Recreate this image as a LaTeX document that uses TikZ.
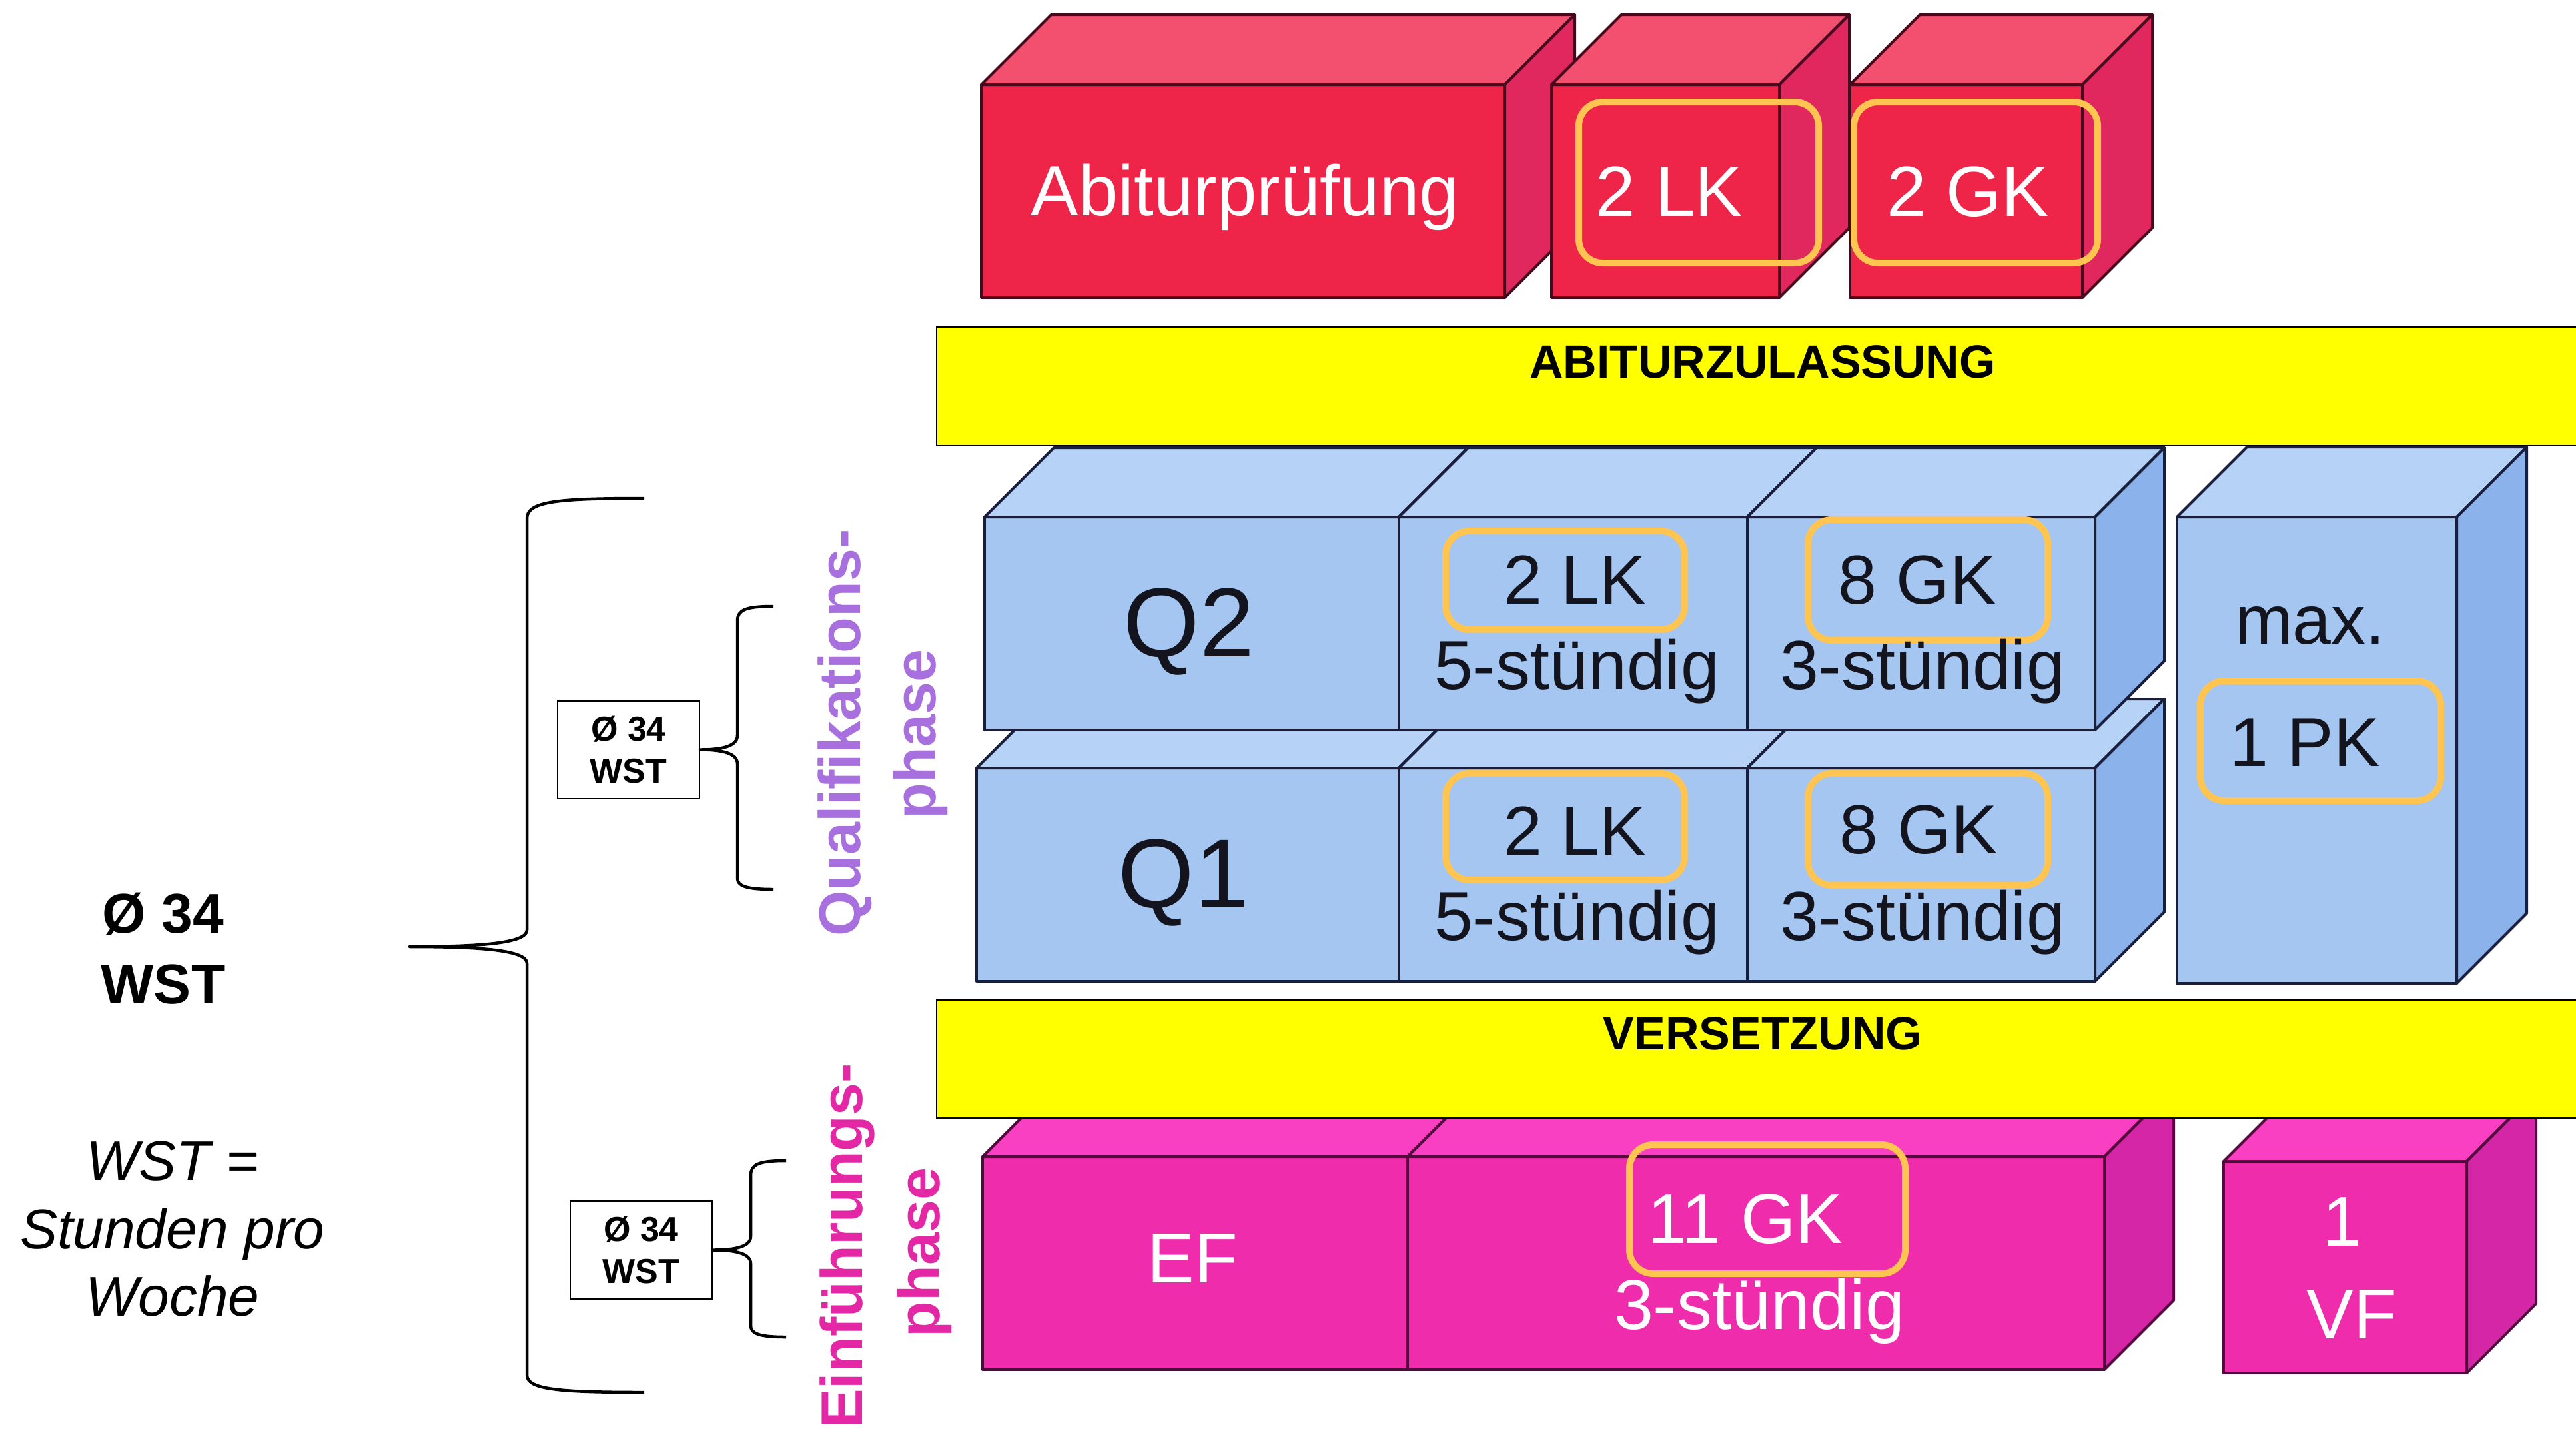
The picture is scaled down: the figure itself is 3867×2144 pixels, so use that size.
\documentclass[tikz,border=0pt]{standalone}
\usepackage{fontspec}
\setmainfont{Liberation Sans}
\definecolor{redF}{RGB}{238,36,72}
\definecolor{redT}{RGB}{242,80,110}
\definecolor{redS}{RGB}{224,40,94}
\definecolor{redE}{RGB}{70,10,30}
\definecolor{bluF}{RGB}{164,198,241}
\definecolor{bluT}{RGB}{182,211,247}
\definecolor{bluS}{RGB}{140,178,236}
\definecolor{bluE}{RGB}{25,30,60}
\definecolor{bluK}{RGB}{20,20,30}
\definecolor{magF}{RGB}{238,44,172}
\definecolor{magT}{RGB}{250,64,194}
\definecolor{magS}{RGB}{214,38,168}
\definecolor{magE}{RGB}{80,10,60}
\definecolor{orng}{RGB}{255,197,80}
\definecolor{yel}{RGB}{255,255,0}
\definecolor{qpurple}{RGB}{168,112,222}
\definecolor{emag}{RGB}{228,40,165}
\newcommand\cuboidbox[9]{%
  \filldraw[cubeedge, draw=#9, fill=#6] (#1,#2) rectangle (#3,#4);
  \filldraw[cubeedge, draw=#9, fill=#7] (#1,#2) -- ({#1+#5},{#2-#5}) -- ({#3+#5},{#2-#5}) -- (#3,#2) -- cycle;
  \filldraw[cubeedge, draw=#9, fill=#8] (#3,#2) -- ({#3+#5},{#2-#5}) -- ({#3+#5},{#4-#5}) -- (#3,#4) -- cycle;
}
\tikzset{
  cubeedge/.style={line width=4pt, line join=round},
  hl/.style={draw=orng, line width=10pt, rounded corners=36pt},
  bar/.style={fill=yel, draw=black, line width=2.5pt},
  redtxt/.style={text=white, font=\fontsize{107}{130}\selectfont, anchor=base, inner sep=0pt},
  blutxt/.style={text=bluK, font=\fontsize{104}{125}\selectfont, anchor=base, inner sep=0pt},
  qtxt/.style={text=bluK, font=\fontsize{147}{170}\selectfont, anchor=base, inner sep=0pt},
  magtxt/.style={text=white, font=\fontsize{106}{128}\selectfont, anchor=base, inner sep=0pt},
  bartxt/.style={text=black, font=\bfseries\fontsize{70}{84}\selectfont, anchor=base, inner sep=0pt},
  phasetxt/.style={font=\bfseries\fontsize{88}{100}\selectfont, rotate=90, inner sep=0pt},
  wstbox/.style={draw=black, line width=2pt, fill=white, minimum width=213pt, minimum height=147pt, align=center, font=\bfseries\fontsize{52}{63}\selectfont, inner sep=0pt},
  brace/.style={draw=black, line width=4.5pt, line join=round},
  lefttxt/.style={font=\fontsize{84}{100}\selectfont, anchor=base, inner sep=0pt},
}
\begin{document}
\begin{tikzpicture}[x=1pt,y=-1pt]
\useasboundingbox (0,0) rectangle (3867,2144);
\fill[white] (0,0) rectangle (3867,2144);

% ---- red blocks (Abitur)
\cuboidbox{1473}{127}{2259}{447}{105}{redF}{redT}{redS}{redE}
\cuboidbox{2329}{127}{2671}{447}{105}{redF}{redT}{redS}{redE}
\cuboidbox{2777}{127}{3126}{447}{105}{redF}{redT}{redS}{redE}

% ---- blue blocks (Q1 first, then Q2)
\cuboidbox{1466}{1153}{2100}{1473}{104}{bluF}{bluT}{bluS}{bluE}
\cuboidbox{2100}{1153}{2623}{1473}{104}{bluF}{bluT}{bluS}{bluE}
\cuboidbox{2623}{1153}{3145}{1473}{104}{bluF}{bluT}{bluS}{bluE}
\cuboidbox{1478}{776}{2100}{1096}{104}{bluF}{bluT}{bluS}{bluE}
\cuboidbox{2100}{776}{2623}{1096}{104}{bluF}{bluT}{bluS}{bluE}
\cuboidbox{2623}{776}{3145}{1096}{104}{bluF}{bluT}{bluS}{bluE}
\cuboidbox{3268}{776}{3688}{1476}{105}{bluF}{bluT}{bluS}{bluE}

% ---- magenta blocks (EF)
\cuboidbox{1475}{1736}{2113}{2056}{104}{magF}{magT}{magS}{magE}
\cuboidbox{2113}{1736}{3159}{2056}{104}{magF}{magT}{magS}{magE}
\cuboidbox{3338}{1743}{3703}{2061}{104}{magF}{magT}{magS}{magE}

% ---- yellow bars
\draw[bar] (1406,491) rectangle (3880,669);
\node[bartxt] (abiz) at (2646,567) {ABITURZULASSUNG};
\draw[bar] (1406,1501) rectangle (3880,1678);
\node[bartxt] (vers) at (2646,1575) {VERSETZUNG};

% ---- orange highlights
\draw[hl] (2370,153) rectangle (2730,395);
\draw[hl] (2783,153) rectangle (3149,395);
\draw[hl] (2170,797) rectangle (2529,945);
\draw[hl] (2714,780) rectangle (3074,961);
\draw[hl] (2170,1161) rectangle (2529,1321);
\draw[hl] (2714,1161) rectangle (3074,1329);
\draw[hl] (3303,1022) rectangle (3664,1202);
\draw[hl] (2446,1718) rectangle (2860,1912);

% ---- block texts
\node[redtxt] (abi) at (1869,323) {Abiturprüfung};
\node[redtxt] (lka) at (2506,324) {2 LK};
\node[redtxt] (gka) at (2954,324) {2 GK};

\node[qtxt] (q2) at (1785,985) {Q2};
\node[blutxt] (q2lk) at (2364,906) {2 LK};
\node[blutxt] (q2lks) at (2367,1034) {5-stündig};
\node[blutxt] (q2gk) at (2878,906) {8 GK};
\node[blutxt] (q2gks) at (2886,1034) {3-stündig};
\node[qtxt] (q1) at (1777,1362) {Q1};
\node[blutxt] (q1lk) at (2364,1283) {2 LK};
\node[blutxt] (q1lks) at (2367,1411) {5-stündig};
\node[blutxt] (q1gk) at (2880,1281) {8 GK};
\node[blutxt] (q1gks) at (2886,1411) {3-stündig};
\node[blutxt] (maxk) at (3468,966) {max.};
\node[blutxt] (pk) at (3460,1150) {1 PK};

\node[magtxt] (ef) at (1790,1925) {EF};
\node[magtxt] (gk11) at (2620,1866) {11 GK};
\node[magtxt] (gk11s) at (2641,1995) {3-stündig};
\node[magtxt] (vfa) at (3516,1870) {1};
\node[magtxt] (vfb) at (3530,2009) {VF};

% ---- phase labels
\node[phasetxt, text=qpurple] (qual) at (1268,1100) {Qualifikations-};
\node[phasetxt, text=qpurple] (qphase) at (1382,1102) {phase};
\node[phasetxt, text=emag] (einf) at (1272,1870) {Einführungs-};
\node[phasetxt, text=emag] (ephase) at (1388,1880) {phase};

% ---- WST boxes and braces
\node[wstbox] (b1) at (943.5,1125.5) {Ø 34\\WST};
\node[wstbox] (b2) at (962.5,1876.5) {Ø 34\\WST};

\draw[brace] (1161,910) .. controls (1120,910) and (1107,915) .. (1107,932) -- (1107,1104)
  .. controls (1107,1120) and (1085,1125.5) .. (b1.east)
  .. controls (1085,1125.5) and (1107,1131) .. (1107,1147) -- (1107,1318)
  .. controls (1107,1330) and (1120,1335) .. (1161,1335);
\draw[brace] (1180,1742) .. controls (1140,1742) and (1127,1747) .. (1127,1764) -- (1127,1856)
  .. controls (1127,1871) and (1105,1876.5) .. (b2.east)
  .. controls (1105,1876.5) and (1127,1882) .. (1127,1897) -- (1127,1990)
  .. controls (1127,2002) and (1140,2007) .. (1180,2007);

\coordinate (tip) at (615,1421);
\draw[brace] (967,748) .. controls (840,748) and (791,752) .. (791,778) -- (791,1396)
  .. controls (791,1416) and (720,1421) .. (tip)
  .. controls (720,1421) and (791,1426) .. (791,1446) -- (791,2064)
  .. controls (791,2086) and (840,2090) .. (967,2090);

% ---- left texts
\node[lefttxt, font=\bfseries\fontsize{84}{100}\selectfont] (avg) at (245,1400) {Ø 34};
\node[lefttxt, font=\bfseries\fontsize{84}{100}\selectfont] (avgw) at (245,1506) {WST};
\node[lefttxt, font=\itshape\fontsize{84}{100}\selectfont] (def1) at (259,1771) {WST =};
\node[lefttxt, font=\itshape\fontsize{84}{100}\selectfont] (def2) at (259,1874) {Stunden pro};
\node[lefttxt, font=\itshape\fontsize{84}{100}\selectfont] (def3) at (259,1975) {Woche};
\end{tikzpicture}
\end{document}
